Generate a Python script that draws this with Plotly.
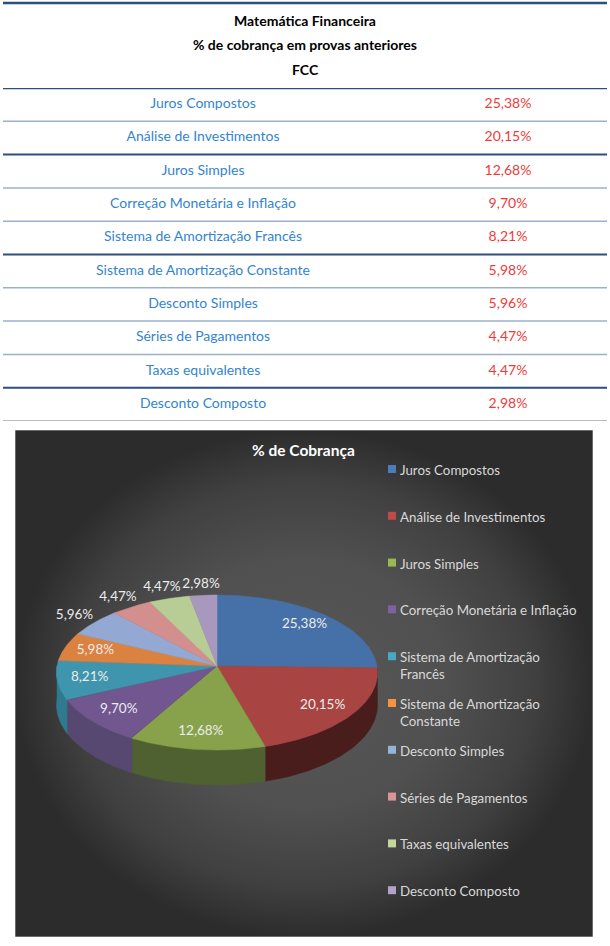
import numpy as np
import plotly.graph_objects as go

# ---------------- data ----------------
header_lines = ["Matemática Financeira", "% de cobrança em provas anteriores", "FCC"]
categories = [
    "Juros Compostos",
    "Análise de Investimentos",
    "Juros Simples",
    "Correção Monetária e Inflação",
    "Sistema de Amortização Francês",
    "Sistema de Amortização Constante",
    "Desconto Simples",
    "Séries de Pagamentos",
    "Taxas equivalentes",
    "Desconto Composto",
]
values = [25.38, 20.15, 12.68, 9.70, 8.21, 5.98, 5.96, 4.47, 4.47, 2.98]
chart_title = "% de Cobrança"

# ---------------- styles ----------------
FONT = "Lato, Carlito, Calibri, sans-serif"
top_colors = ["#4571a8", "#a84543", "#87a24b", "#71568f", "#3f95ad",
              "#dc8240", "#93a9d3", "#d38f8e", "#b8cc95", "#a898bd"]
side_colors = ["#2f4d75", "#4a1d1d", "#4f6131", "#574872", "#2f7a8f",
               "#9a5a2c", "#66769a", "#946463", "#818f68", "#766b84"]
legend_colors = ["#4a7ebb", "#be4b48", "#98b954", "#7d60a0", "#46aac5",
                 "#f69240", "#95b3d7", "#d99694", "#c3d69b", "#b3a2c7"]
NAME_COLOR = "#3384d0"
VALUE_COLOR = "#f03a3a"
DARK_LINE = "#2e4e80"
LIGHT_LINE = "#9ab0cf"
GREY_LINE = "#a6a6a6"

W, H = 610, 946


def fmt(v):
    return f"{v:.2f}".replace(".", ",") + "%"


def wrap(label, maxlen=29, linelen=22):
    if len(label) <= maxlen:
        return label
    words, lines, cur = label.split(" "), [], ""
    for wd in words:
        cand = (cur + " " + wd).strip()
        if len(cand) > linelen and cur:
            lines.append(cur)
            cur = wd
        else:
            cur = cand
    lines.append(cur)
    return "<br>".join(lines)


fig = go.Figure()

# ---------------- table (axes x / y) ----------------
n = len(categories)
rows = list(range(n))
fig.add_trace(go.Scatter(
    x=[203] * n, y=rows, mode="text", text=categories,
    textfont=dict(family=FONT, size=14, color=NAME_COLOR),
    hoverinfo="skip", showlegend=False, xaxis="x", yaxis="y"))
fig.add_trace(go.Scatter(
    x=[508] * n, y=rows, mode="text", text=[fmt(v) for v in values],
    textfont=dict(family=FONT, size=14, color=VALUE_COLOR),
    hoverinfo="skip", showlegend=False, xaxis="x", yaxis="y"))

shapes = []
shapes.append(dict(type="line", xref="x", yref="paper", x0=3, x1=607,
                   y0=1 - 3 / H, y1=1 - 3 / H, line=dict(color=DARK_LINE, width=2.5)))
shapes.append(dict(type="line", xref="x", yref="y", x0=3, x1=607, y0=-0.5, y1=-0.5,
                   line=dict(color=DARK_LINE, width=2.5)))
dark_after = {1, 4, 8}
for i in rows:
    if i == n - 1:
        col, wd = GREY_LINE, 1.5
    elif i in dark_after:
        col, wd = DARK_LINE, 2
    else:
        col, wd = LIGHT_LINE, 1.5
    shapes.append(dict(type="line", xref="x", yref="y", x0=3, x1=607,
                       y0=i + 0.5, y1=i + 0.5, line=dict(color=col, width=wd)))

annotations = []
for j, t in enumerate(header_lines):
    annotations.append(dict(text=f"<b>{t}</b>", xref="paper", yref="paper",
                            x=0.5, y=1 - (20 + 25 * j) / H, showarrow=False,
                            xanchor="center", yanchor="middle",
                            font=dict(family=FONT, size=14, color="#000000")))

# ---------------- chart (axes x2 / y2, pixel units) ----------------
BX0, BX1, BY0, BY1 = 15, 593, 430, 937
fig.add_trace(go.Scatter(
    x=[BX0, BX1, BX1, BX0, BX0], y=[BY0, BY0, BY1, BY1, BY0],
    mode="lines", fill="toself",
    fillgradient=dict(type="radial",
                      colorscale=[[0, "#585858"], [0.5, "#505050"],
                                  [0.8, "#404040"], [1, "#2c2c2c"]]),
    line=dict(color="#c8c8c8", width=0.8),
    hoverinfo="skip", showlegend=False, xaxis="x2", yaxis="y2"))

cx, cy, rx, ry, k, depth = 217, 666, 160, 77, 0.084, 32


def proj(theta_deg, r=1.0, dz=0.0):
    t = np.radians(theta_deg)
    u = r * np.sin(t)
    v = -r * np.cos(t)
    w = 1 - k * v
    return cx + rx * u / w, cy + ry * v / w + dz / w


total = sum(values)
angles = np.concatenate([[0], np.cumsum(values) / total * 360])

# side walls (front half)
for i in range(n):
    a0, a1 = angles[i], angles[i + 1]
    s0, s1 = max(a0, 90), min(a1, 270)
    if s1 > s0:
        th = np.linspace(s0, s1, 80)
        tx, ty = proj(th)
        bx, by = proj(th, dz=depth)
        xs = np.concatenate([tx, bx[::-1], tx[:1]])
        ys = np.concatenate([ty, by[::-1], ty[:1]])
        fig.add_trace(go.Scatter(
            x=xs, y=ys, mode="lines", fill="toself", fillcolor=side_colors[i],
            line=dict(color=side_colors[i], width=0.5),
            hoverinfo="skip", showlegend=False, xaxis="x2", yaxis="y2"))

# top faces
for i in range(n):
    a0, a1 = angles[i], angles[i + 1]
    th = np.linspace(a0, a1, 120)
    px, py = proj(th)
    xs = np.concatenate([[cx], px, [cx]])
    ys = np.concatenate([[cy], py, [cy]])
    fig.add_trace(go.Scatter(
        x=xs, y=ys, mode="lines", fill="toself", fillcolor=top_colors[i],
        line=dict(color=top_colors[i], width=0.5),
        hoverinfo="skip", showlegend=False, xaxis="x2", yaxis="y2"))

# data labels
lx, ly = [], []
for i in range(n):
    mid = (angles[i] + angles[i + 1]) / 2
    r = 0.8 if values[i] >= 5.97 else 1.17
    x, y = proj(mid, r=r)
    lx.append(float(x))
    ly.append(float(y))
fig.add_trace(go.Scatter(
    x=lx, y=ly, mode="text", text=[fmt(v) for v in values],
    textfont=dict(family=FONT, size=13.5, color="#ececec"),
    hoverinfo="skip", showlegend=False, xaxis="x2", yaxis="y2"))

# legend (custom, evenly spaced like the original)
leg_y = [469 + 46.8 * i for i in range(n)]
fig.add_trace(go.Scatter(
    x=[392] * n, y=leg_y, mode="markers",
    marker=dict(symbol="square", size=8, color=legend_colors, line=dict(width=0)),
    hoverinfo="skip", showlegend=False, xaxis="x2", yaxis="y2"))
for i in range(n):
    annotations.append(dict(text=wrap(categories[i]), xref="x2", yref="y2",
                            x=398, y=leg_y[i] - 9, showarrow=False,
                            xanchor="left", yanchor="top", align="left",
                            font=dict(family=FONT, size=13.3, color="#d9d9d9")))

annotations.append(dict(text=f"<b>{chart_title}</b>", xref="x2", yref="y2",
                        x=303, y=450, showarrow=False, xanchor="center", yanchor="middle",
                        font=dict(family=FONT, size=15.5, color="#ffffff")))

ax_off = dict(visible=False, showgrid=False, zeroline=False, fixedrange=True)
fig.update_layout(
    width=W, height=H,
    margin=dict(l=0, r=0, t=0, b=0),
    paper_bgcolor="#ffffff", plot_bgcolor="rgba(0,0,0,0)",
    showlegend=False,
    xaxis=dict(domain=[0, 1], range=[0, W], **ax_off),
    yaxis=dict(domain=[1 - 421 / H, 1 - 88 / H], range=[n - 0.5, -0.5], **ax_off),
    xaxis2=dict(domain=[BX0 / W, BX1 / W], range=[BX0, BX1], **ax_off),
    yaxis2=dict(domain=[1 - BY1 / H, 1 - BY0 / H], range=[BY1, BY0], **ax_off),
    shapes=shapes,
    annotations=annotations,
)

fig.write_html("out.html", config={"displayModeBar": False},
               post_script="document.body.style.margin='0';document.body.style.overflow='hidden';")
